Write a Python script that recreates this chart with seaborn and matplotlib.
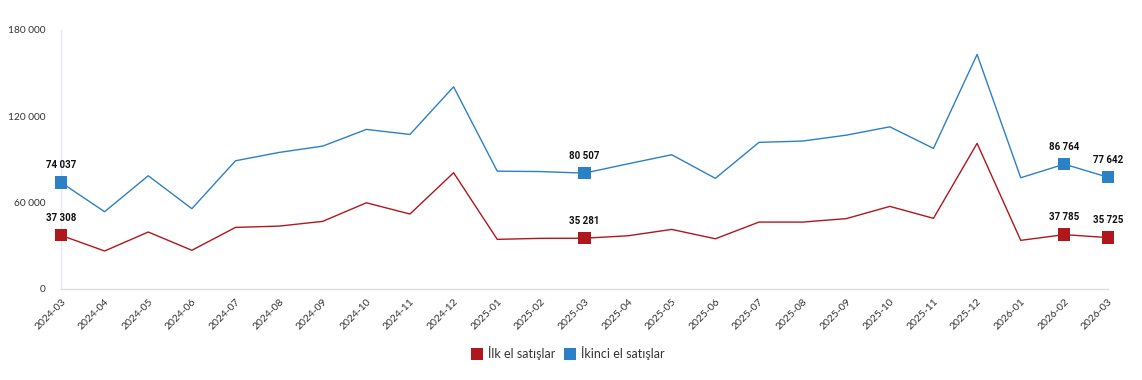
import numpy as np
import pandas as pd
import matplotlib
matplotlib.use('Agg')
import matplotlib.pyplot as plt
from matplotlib.lines import Line2D
from matplotlib.ticker import FuncFormatter, FixedLocator
import seaborn as sns

# Monthly housing sales
months = ['2024-03', '2024-04', '2024-05', '2024-06', '2024-07', '2024-08', '2024-09',
          '2024-10', '2024-11', '2024-12', '2025-01', '2025-02', '2025-03', '2025-04',
          '2025-05', '2025-06', '2025-07', '2025-08', '2025-09', '2025-10', '2025-11',
          '2025-12', '2026-01', '2026-02', '2026-03']
first_hand = [37308, 26400, 39600, 26900, 42800, 43700, 47000, 59900, 52100, 80800,
              34500, 35200, 35281, 37000, 41400, 34900, 46500, 46500, 48900, 57400,
              49100, 101200, 33800, 37785, 35725]
second_hand = [74037, 53700, 78700, 55800, 89100, 94900, 99300, 110900, 107400, 140500,
               81900, 81600, 80507, 87000, 93300, 76900, 101900, 102800, 106900, 112700,
               97700, 163000, 77300, 86764, 77642]
series_names = ['İlk el satışlar', 'İkinci el satışlar']
labelled_months = ['2024-03', '2025-03', '2026-02', '2026-03']
y_ticks = [0, 60000, 120000, 180000]

colors = {'İlk el satışlar': '#b0171c', 'İkinci el satışlar': '#2b80c6'}

df = pd.DataFrame({
    'idx': list(range(len(months))) * 2,
    'month': months * 2,
    'value': first_hand + second_hand,
    'series': [series_names[0]] * len(months) + [series_names[1]] * len(months),
})
marked = df[df['month'].isin(labelled_months)]

sns.set_style('white')
plt.rcParams['font.family'] = ['Lato', 'DejaVu Sans']

fig = plt.figure(figsize=(11.42, 3.8), dpi=100)
ax = fig.add_axes([0.0534, 0.2395, 0.9168, 0.6816])

sns.lineplot(data=df, x='idx', y='value', hue='series', palette=colors,
             linewidth=1.0, legend=False, ax=ax)
sns.scatterplot(data=marked, x='idx', y='value', hue='series', palette=colors,
                marker='s', s=78, linewidth=0, legend=False, ax=ax, zorder=5,
                clip_on=False)

# value labels above the highlighted points
for _, row in marked.iterrows():
    ax.annotate(f"{row['value']:,}".replace(',', ' '), (row['idx'], row['value']),
                xytext=(0, 9), textcoords='offset points', ha='center', va='bottom',
                fontsize=7, fontweight='bold', family=['Roboto', 'DejaVu Sans'],
                color='#111111')

ax.set_xlim(0, len(months) - 1)
ax.set_ylim(0, 180000)
ax.xaxis.set_major_locator(FixedLocator(range(len(months))))
ax.set_xticklabels(months, rotation=45, ha='right', rotation_mode='anchor',
                   fontsize=7.5, color='#333333')
ax.yaxis.set_major_locator(FixedLocator(y_ticks))
ax.yaxis.set_major_formatter(FuncFormatter(lambda v, p: f'{int(v):,}'.replace(',', ' ')))
ax.tick_params(axis='y', length=0, pad=11, labelsize=7.3, labelcolor='#333333')
ax.tick_params(axis='x', length=0, pad=6)
ax.set_xlabel('')
ax.set_ylabel('')

for side in ['top', 'right']:
    ax.spines[side].set_visible(False)
ax.spines['left'].set_color('#e8e8f2')
ax.spines['bottom'].set_color('#dddddd')
ax.spines['left'].set_linewidth(1)
ax.spines['bottom'].set_linewidth(1)

handles = [Line2D([], [], marker='s', linestyle='none', markersize=9,
                  markerfacecolor=colors[n], markeredgewidth=0) for n in series_names]
fig.legend(handles, series_names, loc='center', bbox_to_anchor=(0.497, 0.071),
           ncol=2, frameon=False, fontsize=9, handletextpad=0.35,
           columnspacing=0.7, handlelength=1.0, labelcolor='#333333')

fig.savefig('out.png', dpi=100)
